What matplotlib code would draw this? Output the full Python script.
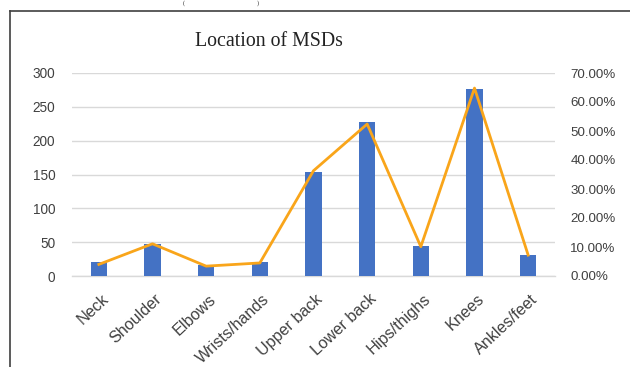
import matplotlib
matplotlib.use("Agg")
import matplotlib.pyplot as plt
from matplotlib.lines import Line2D
from matplotlib.ticker import FuncFormatter
from matplotlib.transforms import ScaledTranslation

categories = ["Neck", "Shoulder", "Elbows", "Wrists/hands", "Upper back",
              "Lower back", "Hips/thighs", "Knees", "Ankles/feet"]
counts = [21, 48, 16, 20, 154, 228, 44, 276, 31]
percents = [4.0, 11.1, 3.4, 4.5, 36.3, 52.4, 10.1, 64.8, 7.2]
left_ticks = [0, 50, 100, 150, 200, 250, 300]
right_ticks = [0, 10, 20, 30, 40, 50, 60, 70]

W, H = 630, 367
fig = plt.figure(figsize=(W / 100, H / 100), dpi=100)
fig.patch.set_facecolor("white")

ax = fig.add_axes([72 / W, 1 - 276 / H, (555 - 72) / W, (276 - 73) / H])
x = list(range(len(categories)))
ax.bar(x, counts, width=0.3, color="#4472C4", zorder=3)
ax.set_xlim(-0.5, len(categories) - 0.5)
ax.set_ylim(0, 300)
ax.set_yticks(left_ticks)
ax.grid(axis="y", color="#D9D9D9", linewidth=1.0, zorder=0)
for s in ["top", "right", "left"]:
    ax.spines[s].set_visible(False)
ax.spines["bottom"].set_color("#D9D9D9")
ax.spines["bottom"].set_linewidth(1.0)
ax.tick_params(axis="both", length=0, labelsize=9.8, labelcolor="#404040")
ax.tick_params(axis="y", pad=12)
ax.tick_params(axis="x", pad=11)
ax.set_xticks(x)
ax.set_xticklabels(categories, rotation=43, ha="right", rotation_mode="anchor",
                   fontfamily="Liberation Sans", fontsize=11.6)
offset = ScaledTranslation(2 / 100, 0, fig.dpi_scale_trans)
for lab in ax.get_xticklabels():
    lab.set_transform(lab.get_transform() + offset)
for lab in ax.get_yticklabels():
    lab.set_fontfamily("Liberation Sans")

ax2 = ax.twinx()
ax2.plot(x, percents, color="#F9A51A", linewidth=2.0, zorder=4)
ax2.set_ylim(0, 70)
ax2.set_yticks(right_ticks)
ax2.yaxis.set_major_formatter(FuncFormatter(lambda v, p: f"{v:.2f}%"))
for s in ["top", "right", "left", "bottom"]:
    ax2.spines[s].set_visible(False)
ax2.tick_params(axis="y", length=0, labelsize=9.6, labelcolor="#404040", pad=11)
for lab in ax2.get_yticklabels():
    lab.set_fontfamily("Liberation Sans")

# chart frame (cropped on right and bottom)
fig.add_artist(Line2D([10 / W, 10 / W], [0, 1 - 11 / H], color="#404040", linewidth=1.2))
fig.add_artist(Line2D([10 / W, 1], [1 - 11 / H, 1 - 11 / H], color="#404040", linewidth=1.2))

fig.text(269 / W, 1 - 41 / H, "Location of MSDs", ha="center", va="center",
         fontfamily="Liberation Serif", fontsize=14.3, color="#222222")
fig.text(184 / W, 1 - 0.5 / H, "(", ha="center", va="top",
         fontfamily="Liberation Serif", fontsize=4.5, color="#222222")
fig.text(258 / W, 1 - 0.5 / H, ")", ha="center", va="top",
         fontfamily="Liberation Serif", fontsize=4.5, color="#222222")

fig.savefig("out.png", dpi=100)
